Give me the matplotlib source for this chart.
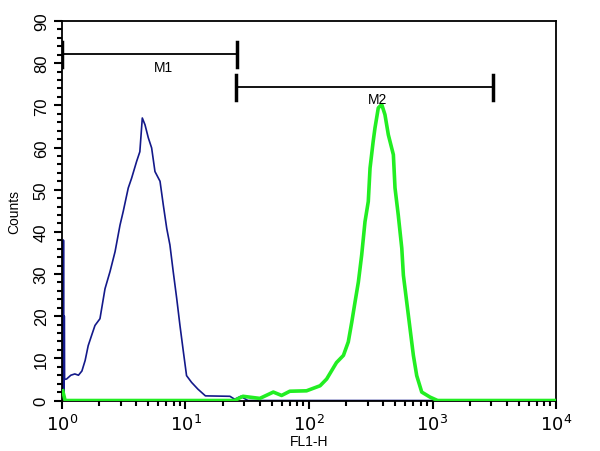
import matplotlib.pyplot as plt
from matplotlib.ticker import FixedLocator, MultipleLocator, LogLocator, NullFormatter

plt.rcParams['font.family'] = ['Liberation Sans', 'DejaVu Sans']

# blue histogram (control)
blue_x = [1.016, 1.02, 1.024, 1.028, 1.032, 1.036, 1.04, 1.044, 1.05, 1.09, 1.18, 1.27, 1.36,
          1.45, 1.54, 1.63, 1.74,
          1.85, 2.03, 2.23, 2.45, 2.69,
          2.95, 3.13, 3.44, 3.66, 4.02, 4.27, 4.47, 4.70, 5.0, 5.32, 5.66, 6.22,
          6.61, 7.05, 7.48, 7.96, 8.49, 9.02, 9.62, 10.2, 11.2, 12.6, 14.5, 22.9,
          25.0, 28.0, 32.0, 1000.0]
blue_y = [0, 38, 0, 38, 0, 20, 0, 20, 5, 5.1, 6.0, 6.3, 6.0,
          7, 9.5, 13, 15.5,
          17.8, 19.4, 26.5, 30.6, 35.3,
          41.6, 44.8, 50.4, 52.7, 56.7, 59, 67, 65.4, 62.3, 59.9, 54.3, 52,
          46.4, 40.8, 36.9, 30.5, 24.2, 17.8, 11.5, 5.9, 4.3, 2.7, 1.1, 1.0,
          0.3, 1.0, 0, 0]

# green histogram (antibody stained)
green_x = [1.015, 1.03, 1.06, 25.0, 29.2, 40.0, 51.4, 60.0, 70.0, 95.5, 123, 139, 167,
           190, 208, 222, 236, 251, 267, 284, 302, 312, 331, 342, 364,
           388, 412, 439, 482, 497, 528, 564, 581, 618, 658, 700, 745,
           818, 955, 1100, 10000]
green_y = [2.3, 1.5, 0, 0, 1.0, 0.5, 2.0, 1.2, 2.2, 2.3, 3.5, 5.1, 9,
           10.7, 13.9, 18.6, 23.4, 28.1, 34.5, 42.4, 47.2, 55.1, 61.5, 64.6, 69.4,
           70.2, 67.8, 63, 58.3, 50.4, 44, 36.1, 29.7, 23.4, 17, 10.7, 5.9,
           2, 0.8, 0, 0]

# marker gates: name, start, end, level, label position
gate_names = ['M1', 'M2']
gate_start = [1.0, 25.5]
gate_end = [26.1, 3110]
gate_level = [82.1, 74.3]
gate_label_x = [6.6, 362]
gate_label_y = [79.2, 71.6]

fig = plt.figure(figsize=(6, 4.52), dpi=100)
ax = fig.add_axes([0.1033, 0.1117, 0.8234, 0.8396])

ax.plot(blue_x, blue_y, color='#13198a', lw=1.2, zorder=2)
ax.plot(green_x, green_y, color='#22ee22', lw=2.6, zorder=3)

for name, x0, x1, lev, lx, ly in zip(gate_names, gate_start, gate_end, gate_level,
                                     gate_label_x, gate_label_y):
    ax.plot([x0, x1], [lev, lev], color='black', lw=1.3, zorder=4)
    ax.plot([x0, x0], [lev - 3, lev + 3], color='black', lw=2.5, zorder=4)
    ax.plot([x1, x1], [lev - 3, lev + 3], color='black', lw=2.5, zorder=4)
    ax.text(lx, ly, name, ha='center', va='center', fontsize=10, zorder=5)

ax.set_xscale('log')
ax.set_xlim(1, 10000)
ax.set_ylim(0, 90)

ax.xaxis.set_major_locator(FixedLocator([1, 10, 100, 1000, 10000]))
ax.set_xticklabels([r'$10^{0}$', r'$10^{1}$', r'$10^{2}$', r'$10^{3}$', r'$10^{4}$'])
ax.xaxis.set_minor_locator(LogLocator(base=10, subs=range(2, 10)))
ax.xaxis.set_minor_formatter(NullFormatter())
ax.yaxis.set_major_locator(MultipleLocator(10))
ax.yaxis.set_minor_locator(MultipleLocator(2))

ax.tick_params(which='major', length=6, width=1.5, labelsize=12, direction='out')
ax.tick_params(axis='x', which='major', labelsize=13)
ax.tick_params(which='minor', length=3.5, width=1.5, direction='out')
for lbl in ax.get_yticklabels():
    lbl.set_rotation(90)
    lbl.set_va('center')

for sp in ax.spines.values():
    sp.set_linewidth(1.3)

ax.set_xlabel('FL1-H', fontsize=10, labelpad=0)
ax.set_ylabel('Counts', fontsize=10)
ax.yaxis.set_label_coords(-0.083, 0.5)

fig.savefig('out.png', dpi=100)
